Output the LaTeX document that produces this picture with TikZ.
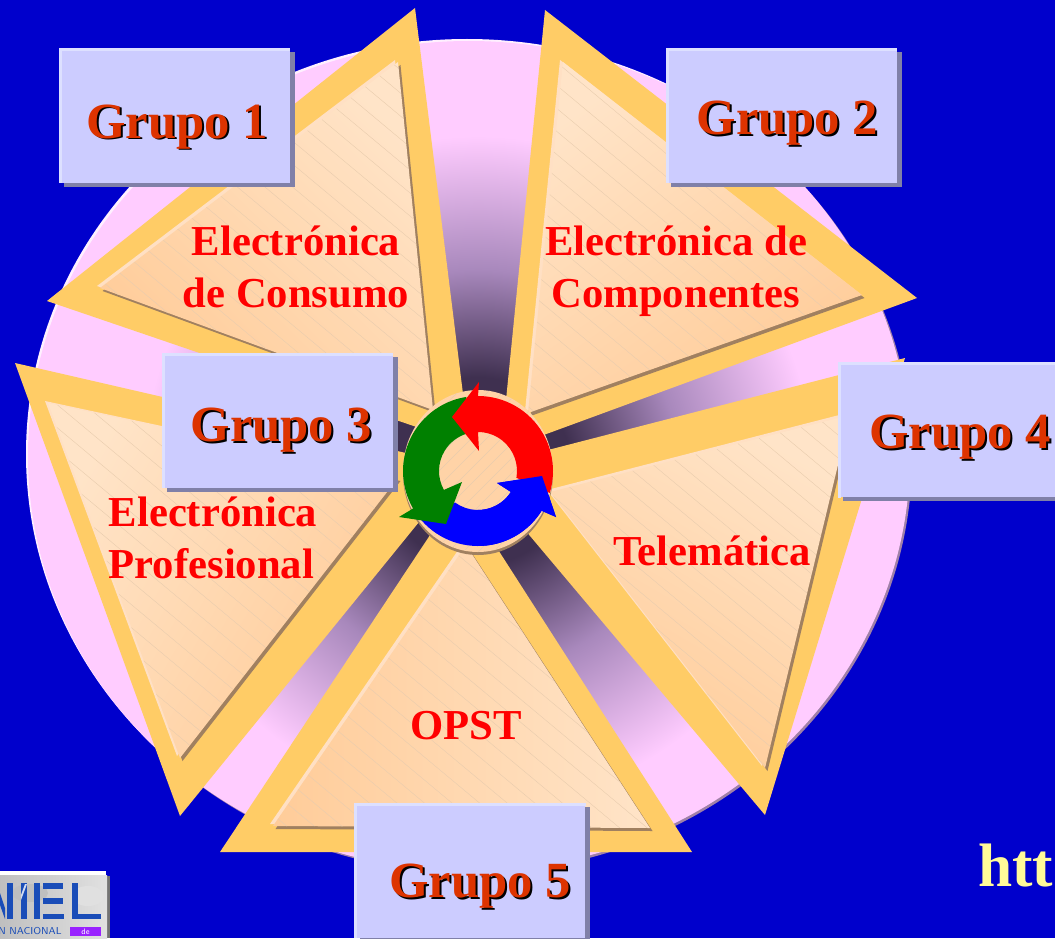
\documentclass[tikz,border=0pt]{standalone}
\usepackage{fontspec}
\setmainfont{Liberation Serif}
\usetikzlibrary{shadows}

\definecolor{fondo}{HTML}{0000CC}
\definecolor{disco}{HTML}{FFCCFF}
\definecolor{discoborde}{HTML}{A080A8}
\definecolor{rayo}{HTML}{3F3050}
\definecolor{rayomedio}{HTML}{A888BC}
\definecolor{naranja}{HTML}{FFCC66}
\definecolor{panelclaro}{HTML}{FFE4C8}
\definecolor{paneloscuro}{HTML}{FFCC99}
\definecolor{panelsombra}{HTML}{A08060}
\definecolor{panelbrillo}{HTML}{FFE0C4}
\definecolor{rayado}{HTML}{E8CCAE}
\definecolor{cajafondo}{HTML}{CCCCFF}
\definecolor{cajabrillo}{HTML}{DDE0FF}
\definecolor{cajasombra}{HTML}{8080A8}
\definecolor{grupotexto}{HTML}{DD3300}
\definecolor{logoazul}{HTML}{1A4DB8}
\definecolor{logovioleta}{HTML}{9922FF}

\pgfdeclareradialshading{fadehub}{\pgfpoint{0bp}{0bp}}{%
	color(0bp)=(rayo); color(7bp)=(rayo); color(15bp)=(rayomedio); color(25bp)=(disco); color(50bp)=(disco)}

\tikzset{
	grupobox/.style={fill=cajafondo, inner sep=0pt, minimum width=173pt, minimum height=101pt,
		drop shadow={shadow xshift=3.75pt, shadow yshift=-3pt, fill=cajasombra, opacity=1}},
	grupoedge/.style={draw=cajabrillo, line width=2pt},
	grupolabel/.style={text=grupotexto, font=\fontsize{38}{40}\selectfont\bfseries, inner sep=0pt, anchor=base},
	tema/.style={text=red, font=\fontsize{32}{39}\selectfont\bfseries, inner sep=0pt},
	logobar/.style={fill=logoazul}
}

% group label with its black offset copy
\newcommand{\grupotext}[1]{\makebox[0pt][l]{\kern1.5pt\raisebox{-1.5pt}{\textcolor{black}{#1}}}#1}

% inner panel of a wedge: #1 #2 #3 corners, #4 shading angle
\newcommand{\panelwedge}[4]{%
	\fill[panelsombra, shift={(2.5,3)}] #1 -- #2 -- #3 -- cycle;
	\fill[panelbrillo, shift={(-3,-2)}] #1 -- #2 -- #3 -- cycle;
	\shade[bottom color=paneloscuro, top color=panelclaro, shading angle=#4] #1 -- #2 -- #3 -- cycle;
	\begin{scope}
		\clip #1 -- #2 -- #3 -- cycle;
		\foreach \c in {-1000,-977,...,1000}
			\draw[rayado, line width=0.3pt] (0,\c) -- (1055,{\c+880});
	\end{scope}
}

\begin{document}
\begin{tikzpicture}[x=0.75pt, y=-0.75pt]
	\useasboundingbox (0,0) rectangle (1055,938);
	\fill[fondo] (0,0) rectangle (1055,938);
	
	% disc behind the wedges
	\fill[discoborde] (471,458) ellipse (441 and 415);
	\fill[white!70!disco] (467,454) ellipse (441 and 415);
	\fill[disco] (469,456) ellipse (441 and 415);
	\begin{scope}
		\clip (469,456) ellipse (441 and 415);
		\shade[shading=fadehub] (478,471) circle (335);
	\end{scope}
	
	% wedge one
	\fill[naranja] (415,8) -- (47,301) -- (440,435) -- (465,410) -- cycle;
	\panelwedge{(398,62)}{(100,288)}{(433,410)}{-45}
	
	% wedge two
	\fill[naranja] (545,10) -- (917,298) -- (530,440) -- (505,410) -- cycle;
	\panelwedge{(563,62)}{(862,295)}{(528,413)}{35}
	
	% wedge three
	\fill[naranja] (15,363) -- (180,816) -- (445,490) -- (445,462) -- cycle;
	\panelwedge{(48,403)}{(180,758)}{(398,478)}{60}
	
	% wedge four
	\fill[naranja] (905,358) -- (765,815) -- (525,530) -- (548,450) -- cycle;
	\panelwedge{(850,415)}{(765,768)}{(550,492)}{-30}
	
	% wedge five
	\fill[naranja] (220,852) -- (692,852) -- (495,545) -- (440,520) -- cycle;
	\panelwedge{(273,826)}{(650,828)}{(466,545)}{-90}
	
	% hub
	\fill[panelsombra] (478,474) ellipse (75 and 81);
	\fill[paneloscuro!70!panelclaro] (478,471) ellipse (75 and 81);
	\begin{scope}
		\clip (478,471) ellipse (75 and 81);
		\foreach \c in {400,415,...,1100}
			\draw[rayado, line width=0.3pt] (300,\c) -- (700,{\c-400});
	\end{scope}
	
	% round arrows
	\begin{scope}[shift={(478,471)}]
		\fill[blue] (78,46) -- (64,5) -- (19,12) -- (32.5:39) arc (32.5:126:39) -- (139:75) arc (139:32:75) -- cycle;
		\fill[green!50!black] (-79,46) -- (-32,53) -- (-16,11) -- (151:39) arc (151:255:39) -- (261:75) arc (261:150:75) -- cycle;
		\fill[red] (-26,-54) -- (1,-89) -- (-90:75) arc (-90:17:75) -- (10:39) arc (10:-90:39) -- (1,-20) -- cycle;
		\begin{scope}
			\clip (0,-20) rectangle (100,80);
			\fill[blue] (78,46) -- (64,5) -- (19,12) -- (32.5:39) arc (32.5:126:39) -- (139:75) arc (139:32:75) -- cycle;
		\end{scope}
	\end{scope}
	
	% group boxes
	\node[grupobox] (grupo1) at (174.5,115.5) {};
	\node[grupobox] (grupo2) at (781.5,115.5) {};
	\node[grupobox] (grupo3) at (277.5,420.5) {};
	\node[grupobox] (grupo4) at (953.5,430) {};
	\node[grupobox] (grupo5) at (470,870.5) {};
	\foreach \g in {grupo1,grupo2,grupo3,grupo4,grupo5}
		\draw[grupoedge] ([shift={(1pt,0pt)}]\g.south west) -- ([shift={(1pt,-1pt)}]\g.north west) -- ([shift={(0pt,-1pt)}]\g.north east);
	
	% labels of the boxes
	\node[grupolabel] (etiqueta1) at (177,138) {\grupotext{Grupo 1}};
	\node[grupolabel] (etiqueta2) at (787.5,135) {\grupotext{Grupo 2}};
	\node[grupolabel] (etiqueta3) at (281.5,441) {\grupotext{Grupo 3}};
	\node[grupolabel] (etiqueta4) at (960,448) {\grupotext{Grupo 4}};
	\node[grupolabel] (etiqueta5) at (480,897) {\grupotext{Grupo 5}};
	
	% texts of the wedges
	\node[tema, align=center] (consumo) at (296,267) {Electrónica\\de Consumo};
	\node[tema, align=center] (componentes) at (676,271) {Electrónica de\\Componentes};
	\node[tema, align=left] (profesional) at (213,538) {Electrónica\\Profesional};
	\node[tema] (telematica) at (712,551) {Telemática};
	\node[tema] (opst) at (466,726) {OPST};
	
	% cut address
	\node[text=yellow!40!white, font=\fontsize{46}{50}\selectfont\bfseries, inner sep=0pt, anchor=base west] (enlace) at (978,886) {htt};
	
	% logo corner
	\fill[black!55] (0,876) rectangle (110,938);
	\fill[white] (0,871) rectangle (106,880);
	\shade[left color=black!25, right color=black!12] (0,875) rectangle (107,938);
	\fill[white!75!black] (30,893) ellipse (18 and 9);
	\fill[white!88!black] (88,896) ellipse (16 and 10);
	\fill[logobar] (0,893) -- (5,908) -- (5,919) -- (0,905) -- cycle;
	\fill[logobar] (7,883) rectangle (13,919);
	\fill[logobar] (21,883) rectangle (27,919);
	\fill[white!80!logoazul] (21,900) -- (27,884) -- (25,884) -- (21,895) -- cycle;
	\fill[logobar] (34,883) rectangle (40,919);
	\fill[logobar] (43,883) rectangle (63,889);
	\fill[logobar] (43,898) rectangle (63,904);
	\fill[logobar] (43,914) rectangle (64,919);
	\fill[logobar] (72,883) rectangle (78,919);
	\fill[logobar] (72,914) rectangle (101,919);
	\node[text=logoazul, font=\sffamily\fontsize{7.5}{8}\selectfont, inner sep=0pt, anchor=west] (logotexto) at (-2,931) {N NACIONAL};
	\node[fill=logovioleta, text=white, font=\sffamily\fontsize{6}{6}\selectfont, inner sep=0pt, minimum width=23pt, minimum height=6.5pt] (logode) at (85.5,931.5) {de};
\end{tikzpicture}
\end{document}
